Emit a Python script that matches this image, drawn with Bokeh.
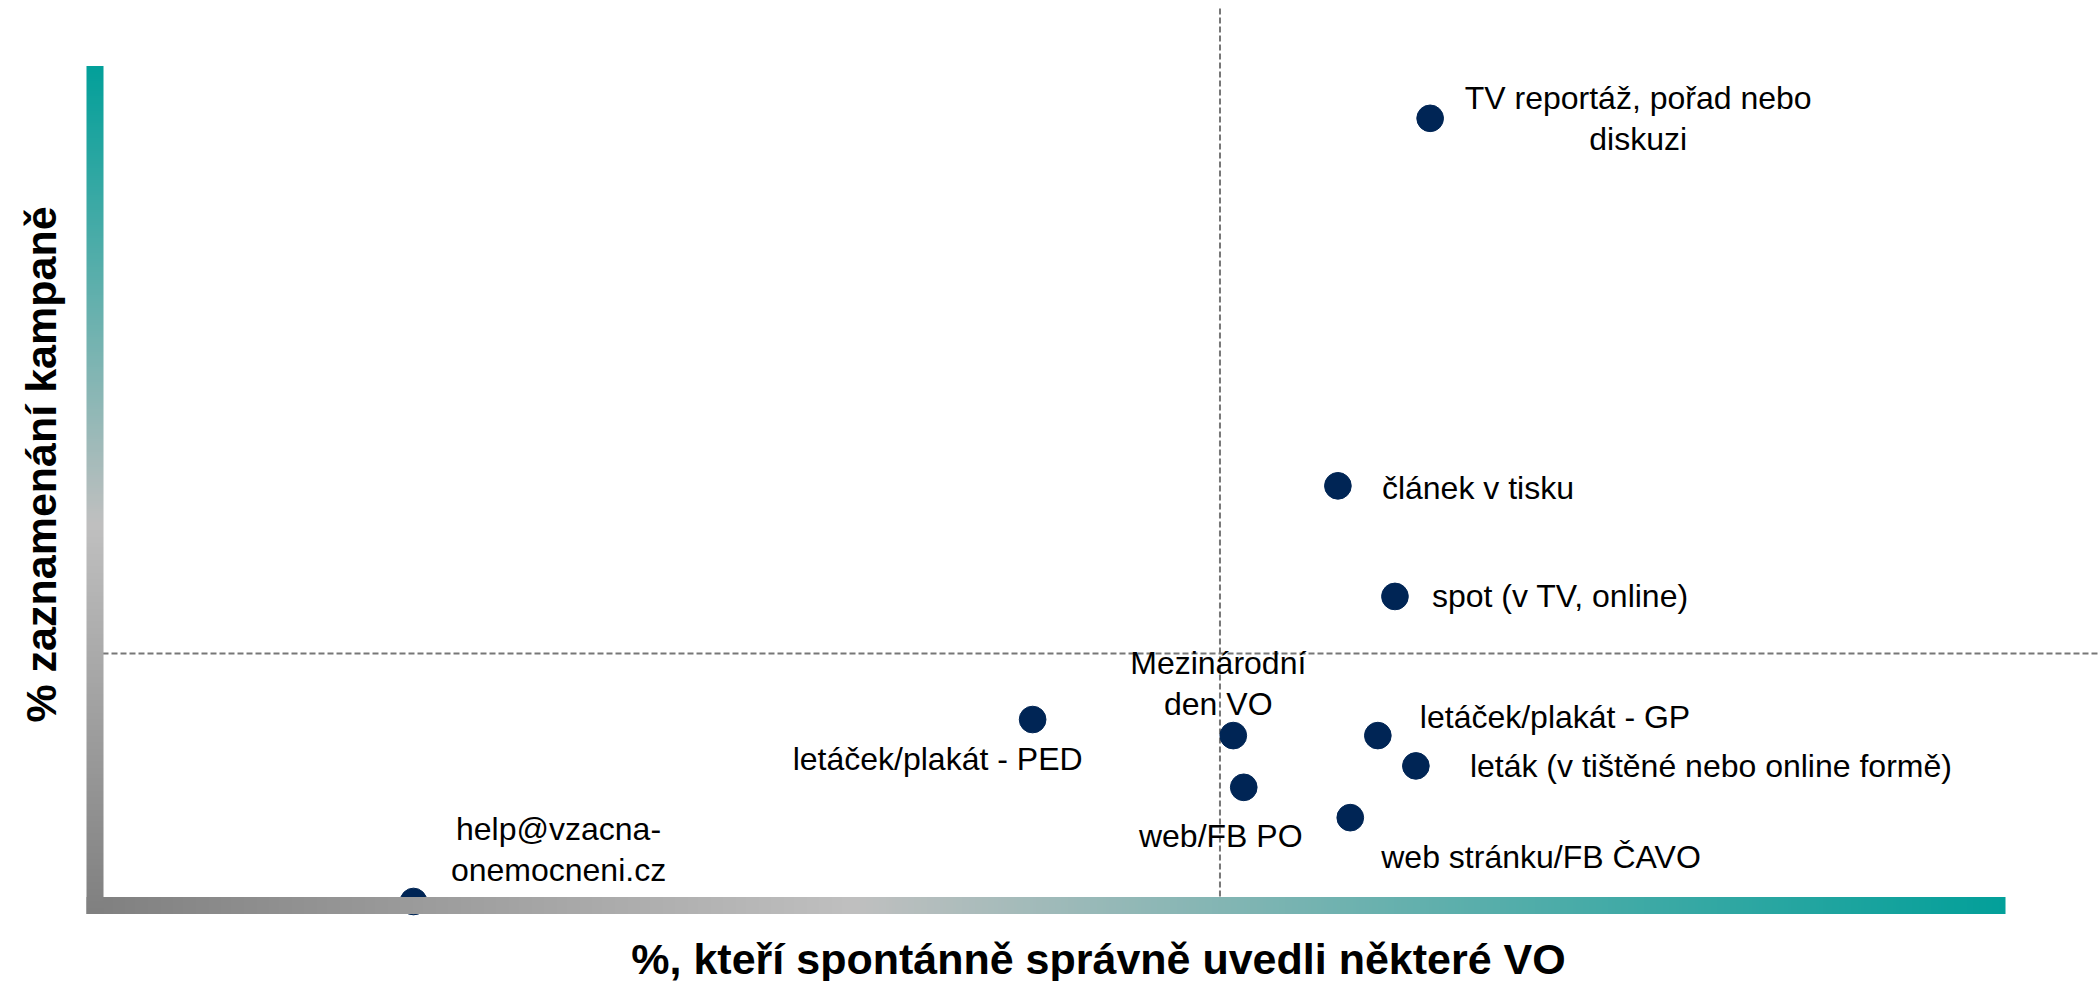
import math
import numpy as np
from bokeh.plotting import figure
from bokeh.models import ColumnDataSource, Range1d, Label
from bokeh.embed import file_html
from bokeh.resources import INLINE
from bokeh.core.properties import value

# ---------------- data ----------------
categories = [
    "TV reportáž, pořad nebo\ndiskuzi",
    "článek v tisku",
    "spot (v TV, online)",
    "Mezinárodní\nden VO",
    "web/FB PO",
    "letáček/plakát - GP",
    "leták (v tištěné nebo online formě)",
    "web stránku/FB ČAVO",
    "letáček/plakát - PED",
    "help@vzacna-\nonemocneni.cz",
]
spontaneous_pct = [13.95, 12.98, 13.58, 11.88, 11.99, 13.40, 13.80, 13.11, 9.77, 3.26]
noticed_pct = [43.9, 23.3, 17.1, 9.3, 6.4, 9.3, 7.6, 4.7, 10.2, 0.0]
x_reference = 11.74
y_reference = 13.9
x_title = "%, kteří spontánně správně uvedli některé VO"
y_title = "% zaznamenání kampaně"

# ---------------- layout / style ----------------
label_align = ["center", "left", "left", "center", "center", "left", "left", "left", "center", "center"]
label_dx = [208, 44, 37, -15, -23, 42, 54, 31, -95, 145]
label_dy = [0, 2, 0, -52, 49, -19, 0, 39, 39, -52]

W, H, MARGIN = 2100, 981, 0
X0_PX, KX = 103.0, 95.1      # picture px of x = 0, px per unit
Y0_PX, KY = 901.0, 17.84     # picture px of y = 0, px per unit

def px_x(s):
    return (s - X0_PX) / KX

def px_y(s):
    return (Y0_PX - s) / KY

FONT = "Liberation Sans"
DOT = "#002555"
GREY_D = (128, 128, 128)
GREY_L = (192, 192, 192)
TEAL = (3, 160, 154)

p = figure(width=W, height=H, output_backend="svg", toolbar_location=None,
           x_range=Range1d(px_x(MARGIN), px_x(MARGIN + W)),
           y_range=Range1d(px_y(MARGIN + H), px_y(MARGIN)),
           x_axis_type=None, y_axis_type=None, min_border=0,
           outline_line_color=None, background_fill_color="white",
           border_fill_color="white")
p.grid.visible = False

# reference (dashed) lines
p.segment(x0=[x_reference], y0=[px_y(905)], x1=[x_reference], y1=[px_y(6)],
          line_color="#777777", line_width=2, line_dash="6 3")
p.segment(x0=[px_x(93)], y0=[y_reference], x1=[p.x_range.end], y1=[y_reference],
          line_color="#777777", line_width=2, line_dash="6 3")

# points
src = ColumnDataSource(dict(x=spontaneous_pct, y=noticed_pct))
p.scatter("x", "y", source=src, size=26.7, fill_color=DOT, line_color=DOT)

# gradient axis bars
def ramp(n, stops):
    t = np.linspace(0, 1, n)
    pos = [s[0] for s in stops]
    out = np.zeros((n, 3))
    for c in range(3):
        out[:, c] = np.interp(t, pos, [s[1][c] for s in stops])
    return out.astype(np.uint8)

def rgba_img(cols, shape):
    img = np.empty(shape, dtype=np.uint32)
    v = img.view(dtype=np.uint8).reshape(shape + (4,))
    v[..., 0] = cols[..., 0]
    v[..., 1] = cols[..., 1]
    v[..., 2] = cols[..., 2]
    v[..., 3] = 255
    return img

n = 600
xc = ramp(n, [(0.0, GREY_D), (0.40, GREY_L), (1.0, TEAL)]).reshape(1, n, 3)
ximg = rgba_img(xc, (1, n))
p.image_rgba(image=[ximg], x=px_x(86), y=px_y(913.5),
             dw=px_x(2005) - px_x(86), dh=px_y(896.5) - px_y(913.5))

m = 400
yc = ramp(m, [(0.0, GREY_D), (0.46, GREY_L), (1.0, TEAL)]).reshape(m, 1, 3)
yimg = rgba_img(yc, (m, 1))
p.image_rgba(image=[yimg], x=px_x(86), y=px_y(913.5),
             dw=px_x(103) - px_x(86), dh=px_y(65.5) - px_y(913.5))

# data labels
for al in ["left", "center"]:
    idx = [i for i, a in enumerate(label_align) if a == al]
    sub = ColumnDataSource(dict(
        x=[spontaneous_pct[i] for i in idx], y=[noticed_pct[i] for i in idx],
        label=[categories[i] for i in idx], dx=[label_dx[i] for i in idx],
        dy=[label_dy[i] for i in idx]))
    p.text("x", "y", text="label", source=sub, x_offset="dx", y_offset="dy",
           text_align=al, text_baseline="middle", text_font=value(FONT),
           text_font_size="32px", text_color="#000000", text_line_height=1.15)

# axis titles
p.add_layout(Label(x=px_x(1098), y=px_y(958), text=x_title, text_align="center",
                   text_baseline="alphabetic", text_font=FONT, text_font_style="bold",
                   text_font_size="43px", text_color="#000000"))
p.add_layout(Label(x=px_x(40), y=px_y(464), text=y_title, angle=math.pi / 2,
                   text_align="center", text_baseline="alphabetic", text_font=FONT,
                   text_font_style="bold", text_font_size="43px", text_color="#000000"))

open("out.html", "w").write(file_html(p, INLINE))
